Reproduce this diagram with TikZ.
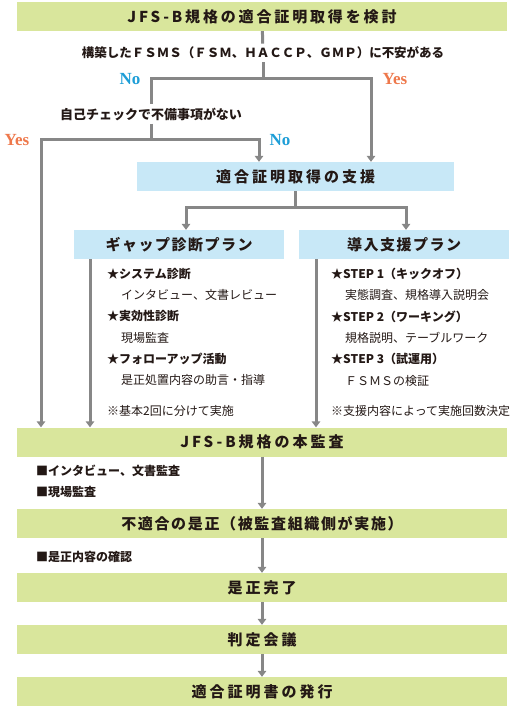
\documentclass[tikz,border=0pt]{standalone}
\usepackage{fontspec}
\setmainfont{Noto Sans CJK JP}
\newfontfamily\ynfont{Liberation Serif}
\usetikzlibrary{arrows.meta, positioning}
\definecolor{cgreen}{RGB}{217,230,156}
\definecolor{cblue}{RGB}{200,232,247}
\definecolor{cline}{RGB}{135,135,135}
\definecolor{ctext}{RGB}{35,24,21}
\definecolor{cno}{RGB}{30,158,215}
\definecolor{cyes}{RGB}{238,120,75}

\begin{document}
\begin{tikzpicture}[
    x=1pt, y=-1pt,
    mainbox/.style={fill=cgreen, text=ctext, minimum width=490pt, minimum height=29pt, inner sep=0pt, font=\fontsize{15}{18}\selectfont\bfseries\addfontfeatures{LetterSpace=20}},
    bluebox/.style={fill=cblue, text=ctext, minimum height=29pt, inner sep=0pt, font=\fontsize{15}{18}\selectfont\bfseries\addfontfeatures{LetterSpace=20}},
    planbox/.style={bluebox, minimum width=210pt, font=\fontsize{15}{18}\selectfont\bfseries\addfontfeatures{LetterSpace=10}},
    ask/.style={text=ctext, inner sep=3pt, font=\fontsize{12.5}{15}\selectfont\bfseries},
    items/.style={text=ctext, inner sep=0pt, align=left, font=\fontsize{12}{21.3}\selectfont},
    note/.style={text=ctext, inner sep=0pt, font=\fontsize{12}{15}\selectfont},
    no/.style={text=cno, inner sep=0pt, font=\fontsize{17}{20}\selectfont\ynfont\bfseries},
    yes/.style={text=cyes, inner sep=0pt, font=\fontsize{17}{20}\selectfont\ynfont\bfseries},
    flow/.style={draw=cline, line width=3pt},
    arr/.style={flow, -{Triangle[length=6pt, width=8.5pt]}}
]
\useasboundingbox (0,0) rectangle (530,710);
\node[mainbox, font=\fontsize{15}{18}\selectfont\bfseries\addfontfeatures{LetterSpace=19}] (top) at (262,16.5) {JFS-B規格の適合証明取得を検討};
\node[ask] (q1) at (263,53) {構築したＦＳＭＳ（ＦＳＭ、ＨＡＣＣＰ、ＧＭＰ）に不安がある};
\coordinate (b1) at (263,78);
\node[ask, font=\fontsize{13}{15}\selectfont\bfseries] (q2) at (151,114) {自己チェックで不備事項がない};
\coordinate (b2) at (151,139);
\node[bluebox, minimum width=317pt] (sup) at (295.5,176.5) {適合証明取得の支援};
\coordinate (b3) at (295.5,207);
\node[planbox] (gap) at (179,244.5) {ギャップ診断プラン};
\node[planbox] (intro) at (404,244.5) {導入支援プラン};
\node[mainbox] (audit) at (262,442) {JFS-B規格の本監査};
\node[mainbox, font=\fontsize{15}{18}\selectfont\bfseries\addfontfeatures{LetterSpace=11}] (fix) at (262,523.5) {不適合の是正（被監査組織側が実施）};
\node[mainbox] (done) at (262,587.5) {是正完了};
\node[mainbox] (judge) at (262,639.5) {判定会議};
\node[mainbox] (issue) at (262,691.5) {適合証明書の発行};

\node[no] (no1) at (130,79) {No};
\node[yes] (yes1) at (395,79) {Yes};
\node[yes] (yes2) at (17,140) {Yes};
\node[no] (no2) at (280,140) {No};

\node[items, anchor=north west] (gapl) at (107,268) {\textbf{★システム診断}\\\hspace*{14pt}インタビュー、文書レビュー\\\textbf{★実効性診断}\\\hspace*{14pt}現場監査\\\textbf{★フォローアップ活動}\\\hspace*{14pt}是正処置内容の助言・指導};
\node[note, anchor=west] (gapn) at (107,411) {※基本2回に分けて実施};
\node[items, anchor=north west] (introl) at (331,268) {\textbf{★STEP 1（キックオフ）}\\\hspace*{14pt}実態調査、規格導入説明会\\\textbf{★STEP 2（ワーキング）}\\\hspace*{14pt}規格説明、テーブルワーク\\\textbf{★STEP 3（試運用）}\\\hspace*{14pt}ＦＳＭＳの検証};
\node[note, anchor=west] (intron) at (331,411) {※支援内容によって実施回数決定};
\node[items, anchor=north west] (auditl) at (36,465) {\textbf{■インタビュー、文書監査}\\\textbf{■現場監査}};
\node[items, anchor=west] (fixl) at (36,557) {\textbf{■是正内容の確認}};

\draw[flow] (top) -- (q1);
\draw[flow] (q1) -- (b1) -| (q2);
\draw[arr] (b1) -| ([xshift=75.5pt]sup.north);
\draw[flow] (q2) -- (b2);
\draw[arr] (b2) -| ([xshift=-36.5pt]sup.north);
\draw[arr] (b2) -| ([xshift=-221pt]audit.north);
\draw[flow] (sup) -- (b3);
\draw[arr] (b3) -| ([xshift=7pt]gap.north);
\draw[arr] (b3) -| ([xshift=2pt]intro.north);
\draw[arr] ([xshift=-89pt]gap.south) -- ([xshift=-89pt]gap.south |- audit.north);
\draw[arr] ([xshift=-88pt]intro.south) -- ([xshift=-88pt]intro.south |- audit.north);
\draw[arr] (audit) -- (fix);
\draw[arr] (fix) -- (done);
\draw[arr] (done) -- (judge);
\draw[arr] (judge) -- (issue);
\end{tikzpicture}
\end{document}
